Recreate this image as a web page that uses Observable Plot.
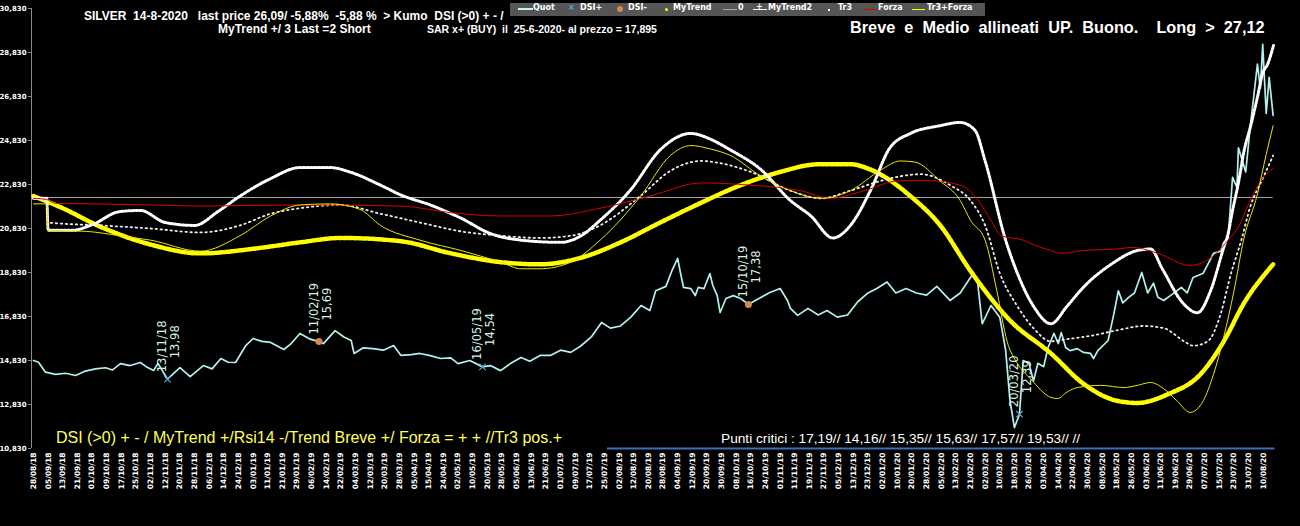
<!DOCTYPE html>
<html><head><meta charset="utf-8">
<script src="https://cdn.jsdelivr.net/npm/d3@7"></script>
<script src="https://cdn.jsdelivr.net/npm/@observablehq/plot@0.6"></script>
<style>
html,body{margin:0;padding:0;background:#000;}
#wrap{position:relative;width:1300px;height:526px;overflow:hidden;background:#000;}
.t{position:absolute;white-space:pre;font-family:"Liberation Sans",Arial,sans-serif;color:#fff;}
#legend{position:absolute;left:510px;top:3px;width:475px;height:13px;background:#555;}
#legend span{position:absolute;}
#legend .lt{top:0;line-height:13px;font:bold 8px "DejaVu Sans",sans-serif;color:#fff;white-space:pre;}
svg [aria-label="y-axis tick"]{stroke:#8a8a8a;}
svg [aria-label="y-axis tick label"]{font:bold 7px "DejaVu Sans",sans-serif;fill:#fff;}
svg [aria-label="x-axis tick label"]{font:bold 7.5px "DejaVu Sans",sans-serif;fill:#fff;}
svg [aria-label="annot"] text{letter-spacing:1px;}
</style></head>
<body><div id="wrap"></div>
<script>
// ---------- DATA ----------
const dateLabels = ["28/08/18","05/09/18","13/09/18","21/09/18","01/10/18","09/10/18","17/10/18","25/10/18","02/11/18","12/11/18","20/11/18","28/11/18","06/12/18","14/12/18","24/12/18","03/01/19","11/01/19","21/01/19","29/01/19","06/02/19","14/02/19","22/02/19","04/03/19","12/03/19","20/03/19","28/03/19","05/04/19","15/04/19","24/04/19","02/05/19","10/05/19","20/05/19","28/05/19","05/06/19","13/06/19","21/06/19","01/07/19","09/07/19","17/07/19","25/07/19","02/08/19","12/08/19","20/08/19","28/08/19","04/09/19","12/09/19","20/09/19","30/09/19","08/10/19","16/10/19","24/10/19","01/11/19","11/11/19","19/11/19","27/11/19","05/12/19","13/12/19","23/12/19","02/01/20","10/01/20","20/01/20","28/01/20","05/02/20","13/02/20","21/02/20","02/03/20","10/03/20","18/03/20","26/03/20","03/04/20","14/04/20","22/04/20","30/04/20","08/05/20","18/05/20","26/05/20","03/06/20","11/06/20","19/06/20","29/06/20","07/07/20","15/07/20","23/07/20","31/07/20","10/08/20"];
const yTicks = [10.83,12.83,14.83,16.83,18.83,20.83,22.83,24.83,26.83,28.83,30.83];

// x positions are in label slots (1 slot = 6 trading days)
const quotX = [0,0.34,0.82,1.5,2.19,2.87,3.55,4.23,4.92,5.4,5.94,6.6,7.3,7.7,8.2,8.5,9.15,10.0,10.7,11.6,12.2,12.8,13.3,13.8,14.5,15.0,15.6,16.2,17.1,17.6,18.2,18.9,19.5,19.8,20.6,21.2,21.7,21.9,22.5,23.2,23.9,24.6,25.1,25.8,26.4,27.1,27.8,28.5,29.0,29.8,30.67,31.2,31.9,32.6,33.3,33.9,34.6,35.3,36.0,36.7,37.4,38.1,38.8,39.4,40.1,40.8,41.5,42.1,42.5,43.2,43.6,44.0,44.2,44.4,44.9,45.2,45.4,45.8,46.2,46.4,46.7,46.9,47.3,47.8,48.3,48.83,49.3,50.3,51.0,51.5,51.7,52.2,52.9,53.6,54.2,54.9,55.6,56.3,57.0,57.6,58.3,58.9,59.6,60.3,61.0,61.7,62.6,63.3,64.0,64.2,64.5,64.8,65.4,66.0,66.4,66.7,67.0,67.35,67.6,68.0,68.3,68.6,69.0,69.3,69.7,70.0,70.2,70.5,70.8,71.3,71.7,72.2,72.4,72.7,73.4,73.8,74.1,74.4,74.8,75.2,75.7,76.1,76.5,76.8,77.2,77.7,78.4,78.8,79.2,79.9,80.6,81.1,81.3,81.6,81.9,82.2,82.3,82.8,83.1,83.6,83.8,83.96,84.2,84.4,84.67];
const quotY = [14.83,14.75,14.3,14.2,14.25,14.15,14.35,14.45,14.5,14.4,14.69,14.6,14.74,14.55,14.37,14.7,13.98,14.51,14.10,14.60,14.45,14.92,14.75,14.74,15.51,15.83,15.7,15.65,15.33,15.6,16.06,15.8,15.69,15.6,16.19,15.9,15.74,15.15,15.4,15.37,15.3,15.51,15.06,15.1,15.15,15.05,14.92,14.95,14.69,14.83,14.54,14.6,14.37,14.7,14.97,14.8,15.06,15.06,15.3,15.2,15.5,15.9,16.56,16.3,16.4,16.8,17.33,17.1,18.0,18.2,18.9,19.47,18.78,18.15,18.1,17.78,18.15,18.1,18.78,18.24,17.78,17.01,17.65,17.78,17.65,17.38,17.56,17.92,18.1,17.56,17.2,16.88,17.2,16.9,17.1,16.8,16.9,17.5,17.9,18.1,18.4,17.9,18.1,17.9,17.8,18.2,17.56,17.9,18.6,18.83,18.3,16.5,17.33,16.8,15.3,13.0,11.78,12.39,14.83,14.7,13.9,14.7,14.55,15.42,16.06,15.6,16.1,15.42,15.28,15.37,15.2,15.15,14.92,15.28,15.74,16.97,18.0,17.45,17.7,17.9,18.83,17.9,18.35,17.7,17.56,17.8,18.15,17.9,18.6,18.8,19.7,19.8,20.2,20.4,23.15,22.7,24.5,23.4,25.4,28.3,27.2,29.2,26.06,27.7,25.97];

const myTrendX = [0,1.84,4.6,8.0,11.4,15.5,18.2,21.0,25.1,28.5,31.9,34.6,37.4,40.1,42.8,45.6,48.3,51.0,53.6,55.8,57.2,59.9,61.9,64.0,66.7,69.5,71.7,74.0,75.4,77.5,79.7,81.3,82.65,84.67];
const myTrendY = [22.3,21.8,20.9,20.1,19.7,19.95,20.2,20.4,20.25,19.7,19.3,19.2,19.5,20.2,21.1,22.0,22.8,23.4,23.75,23.75,23.5,22.3,21.0,18.9,16.65,15.15,13.78,13.0,12.9,13.3,14.2,15.7,17.4,19.2];

const myTrend2X = [0,0.9,1.0,2.7,4.0,5.9,7.3,9.0,11.0,12.6,14.1,16.2,18.2,20.3,21.6,23.7,25.1,27.1,29.2,31.2,33.3,36.0,37.4,38.7,40.8,42.8,44.9,46.2,47.6,49.7,51.7,53.1,54.6,55.8,57.2,58.5,59.9,61.9,63.3,64.3,65.0,66.4,67.2,68.3,69.5,70.6,71.7,73.6,75.4,76.3,77.1,78.5,79.5,80.4,81.3,81.6,81.9,82.3,82.7,83.1,83.6,83.96,84.3,84.7];
const myTrend2Y = [22.2,22.2,20.75,20.75,21.0,21.6,21.65,21.1,20.97,21.6,22.3,23.1,23.6,23.6,23.4,22.8,22.35,21.9,21.3,20.6,20.3,20.2,20.5,21.2,22.6,24.4,25.15,24.9,24.4,23.5,22.1,21.4,20.4,20.97,22.6,24.5,25.15,25.5,25.65,25.3,23.9,20.3,18.8,17.3,16.5,17.3,18.15,19.2,19.83,19.9,19.0,17.45,17.0,18.0,19.97,20.6,21.65,22.9,24.4,25.4,26.8,27.9,28.3,29.15];

const tr3X = [0,0.9,1.0,4.6,8.0,11.4,14.1,16.2,18.2,20.97,23.7,26.4,29.2,31.9,34.6,36.7,38.7,41.5,43.5,45.6,46.9,49.0,51.7,53.8,55.8,57.9,59.2,60.6,62.6,64.0,65.0,66.0,67.2,68.3,69.5,70.6,72.2,74.0,75.8,77.2,78.6,79.2,80.2,81.1,81.8,82.5,83.1,84.0,84.67];
const tr3Y = [22.2,22.2,21.1,20.97,20.83,20.65,20.97,21.5,21.75,21.9,21.5,21.1,20.7,20.5,20.4,20.5,20.97,22.33,23.45,23.9,23.8,23.4,22.55,22.2,22.55,23.0,23.2,23.3,22.8,22.1,20.97,18.8,17.3,16.3,15.7,15.8,15.95,16.2,16.4,16.3,15.7,15.5,15.7,16.97,18.8,20.3,21.8,23.15,24.15];

const forzaX = [0,0.9,1.5,4.2,8,11.4,18.2,25.1,28.5,31.9,35.3,38.7,42.1,45.6,49.0,52.4,54.4,56.5,59.2,61.3,63.3,64.3,65.4,66.1,67.6,68.1,69.5,70.2,71.7,74.0,75.1,76.8,79.0,80.2,81.6,82.3,83.1,84.0,84.67];
const forzaY = [22.2,22.15,21.97,21.95,21.9,21.85,21.9,21.85,21.55,21.4,21.4,21.75,22.3,22.9,22.8,22.55,22.2,22.5,23.0,23.0,22.8,22.3,21.2,20.5,20.3,20.15,19.83,19.7,19.83,19.9,19.97,19.7,19.15,19.4,20.3,20.9,22.1,23.15,23.56];

const tr3ForzaX = [0,0.9,1.0,3.6,5.9,8.0,11.4,14.1,16.2,18.2,20.3,22.3,23.7,26.4,29.2,31.9,33.3,34.6,36.7,38.7,41.5,43.5,44.9,46.2,47.6,49.7,51.7,53.8,55.8,57.9,59.2,60.2,61.9,63.3,64.0,65.0,65.8,66.5,67.2,68.1,69.5,69.95,70.6,71.3,72.9,74.5,75.4,76.3,77.2,78.1,79.0,79.9,80.6,81.3,82.0,82.65,83.6,84.2,84.67];
const tr3ForzaY = [21.95,21.95,20.75,20.7,20.5,20.3,19.8,20.5,21.4,21.9,21.95,21.7,20.97,20.3,19.83,19.3,19.0,19.0,19.3,20.3,22.33,24.15,24.6,24.45,24.15,23.2,22.55,22.2,22.55,23.5,23.9,23.85,23.0,22.1,21.2,20.3,18.0,15.7,14.7,14.0,13.15,13.1,13.4,13.6,13.7,13.6,13.7,13.83,13.55,13.0,12.47,13.0,14.2,15.9,18.0,20.3,22.4,24.2,25.5];

const zeroLevel = 22.24;
const signalDate = ["13/11/18","11/02/19","16/05/19","15/10/19","20/03/20"];
const signalX = [9.15,19.5,30.67,48.83,67.35];
const signalY = [13.98,15.69,14.54,17.38,12.39];
const signalType = ["DSI+","DSI-","DSI+","DSI-","DSI+"];
const dsiStripX = [39.2,84.8];

// ---------- BUILD ----------
const rows = (xs, ys) => xs.map((x, k) => ({x, y: ys[k]}));
const signals = signalX.map((x, k) => ({x, y: signalY[k], date: signalDate[k], type: signalType[k]}));
const fmtComma = (d, n) => d.toFixed(n).replace(".", ",");
const xDomain = [-0.137, 86.2];
const yDomain = [yTicks[0], yTicks[yTicks.length - 1]];
const smooth = "monotone-x";

const chart = Plot.plot({
  width: 1300, height: 526,
  marginLeft: 31, marginRight: 5, marginTop: 8, marginBottom: 78,
  style: {background: "#000", color: "#fff", overflow: "visible"},
  x: {domain: xDomain, axis: null},
  y: {domain: yDomain, axis: null},
  marks: [
    Plot.ruleX([xDomain[0]], {stroke: "#8a8a8a", strokeWidth: 1}),
    Plot.axisY({ticks: yTicks, tickFormat: d => fmtComma(d, 3), tickSize: 3, tickPadding: 2, label: null}),
    Plot.axisX({ticks: d3.range(dateLabels.length), tickFormat: i => dateLabels[i], tickRotate: -90, tickSize: 0, tickPadding: 4, label: null}),
    Plot.ruleY([zeroLevel], {x1: quotX[0], x2: quotX[quotX.length - 1], stroke: "#a8a8a8", strokeWidth: 1}),
    Plot.ruleY([yDomain[0]], {x1: dsiStripX[0], x2: dsiStripX[1], stroke: "#3f6fae", strokeWidth: 2}),
    Plot.line(rows(quotX, quotY), {x: "x", y: "y", stroke: "#b4f0f0", strokeWidth: 1.7}),
    Plot.dot(signals.filter(d => d.type === "DSI+"), {x: "x", y: "y", symbol: "times", r: 3, stroke: "#5aa8d8", strokeWidth: 1.2}),
    Plot.dot(signals.filter(d => d.type === "DSI-"), {x: "x", y: "y", r: 3.5, fill: "#d88848", stroke: "none"}),
    Plot.line(rows(myTrendX, myTrendY), {x: "x", y: "y", stroke: "#ffff00", strokeWidth: 4.5, strokeDasharray: "3,1.8", curve: smooth}),
    Plot.line(rows(myTrend2X, myTrend2Y), {x: "x", y: "y", stroke: "#ffffff", strokeWidth: 3, strokeDasharray: "2,1.8", curve: smooth}),
    Plot.line(rows(tr3X, tr3Y), {x: "x", y: "y", stroke: "#f4ecec", strokeWidth: 1.8, strokeDasharray: "1.5,3.5", curve: smooth}),
    Plot.line(rows(forzaX, forzaY), {x: "x", y: "y", stroke: "#d80000", strokeWidth: 1, curve: smooth}),
    Plot.line(rows(tr3ForzaX, tr3ForzaY), {x: "x", y: "y", stroke: "#e8e800", strokeWidth: 1, curve: smooth}),
    Plot.text(signals, {x: "x", y: "y", text: "date", rotate: -90, textAnchor: "start", lineAnchor: "middle", dx: -5, dy: -7, fill: "#d4f4e4", fontSize: 11.5, fontFamily: "DejaVu Sans", ariaLabel: "annot"}),
    Plot.text(signals, {x: "x", y: "y", text: d => fmtComma(d.y, 2), rotate: -90, textAnchor: "start", lineAnchor: "middle", dx: 8, dy: -21, fill: "#d4f4e4", fontSize: 11.5, fontFamily: "DejaVu Sans", ariaLabel: "annot"})
  ]
});

const wrap = document.getElementById("wrap");
wrap.appendChild(chart);

function addText(txt, left, baseline, fs, weight, color, family) {
  const d = document.createElement("div");
  d.className = "t";
  d.textContent = txt;
  d.style.left = left + "px";
  d.style.top = (baseline - 0.8465 * fs) + "px";
  d.style.fontSize = fs + "px";
  d.style.lineHeight = fs + "px";
  d.style.fontWeight = weight;
  d.style.color = color;
  if (family) d.style.fontFamily = family;
  wrap.appendChild(d);
}
addText("SILVER  14-8-2020   last price 26,09/ -5,88%  -5,88 %  > Kumo  DSI (>0) + - /", 84, 20, 12, "bold", "#fff");
addText("MyTrend +/ 3 Last =2 Short", 218, 33.3, 12, "bold", "#fff");
addText("SAR x+ (BUY)  il  25-6-2020- al prezzo = 17,895", 427, 33.3, 10.5, "bold", "#fff");
addText("Breve  e  Medio  allineati  UP.  Buono.    Long  >  27,12", 850, 33, 16.3, "bold", "#fff");
addText("DSI (>0) + - / MyTrend +/Rsi14 -/Trend Breve +/ Forza = + + //Tr3 pos.+", 56, 444, 16, "normal", "#ffff55");
addText("Punti critici : 17,19// 14,16// 15,35// 15,63// 17,57// 19,53// //", 721, 444, 13.7, "normal", "#fff");

// legend
const lg = document.createElement("div");
lg.id = "legend";
lg.innerHTML = `
<span style="left:8px;top:5px;width:15px;height:2px;background:#c8f4f4"></span><span class="lt" style="left:23px">Quot</span>
<span class="lt" style="left:58px;color:#5aa8d8">×</span><span class="lt" style="left:70px">DSI+</span>
<span style="left:107px;top:3px;width:6px;height:6px;border-radius:3px;background:#d88848"></span><span class="lt" style="left:118px">DSI-</span>
<span style="left:155px;top:5px;width:3px;height:3px;border-radius:2px;background:#ffff00"></span><span class="lt" style="left:163px">MyTrend</span>
<span style="left:213px;top:6px;width:14px;height:1px;background:#aaa"></span><span class="lt" style="left:228px">0</span>
<span style="left:243px;top:6px;width:14px;height:1px;background:#fff"></span><span class="lt" style="left:246px;top:-1px">+</span><span class="lt" style="left:258px">MyTrend2</span>
<span style="left:318px;top:6px;width:2px;height:2px;background:#fff"></span><span class="lt" style="left:328px">Tr3</span>
<span style="left:353px;top:6px;width:14px;height:1px;background:#e00000"></span><span class="lt" style="left:368px">Forza</span>
<span style="left:402px;top:6px;width:13px;height:1px;background:#ffff00"></span><span class="lt" style="left:417px">Tr3+Forza</span>`;
wrap.appendChild(lg);
</script>
</body></html>
